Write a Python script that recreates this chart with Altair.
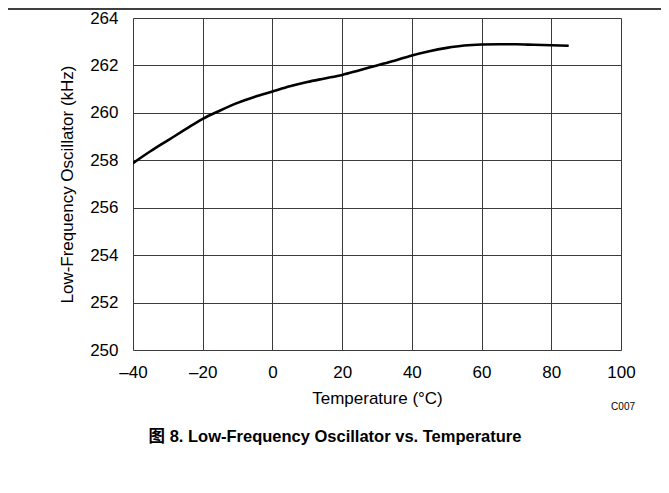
import altair as alt
import pandas as pd

# Data
temps = [-40, -35, -30, -25, -20, -15, -10, -5, 0, 5, 10, 15, 20, 25, 30,
         35, 40, 45, 50, 55, 60, 65, 70, 75, 80, 85]
freq_khz = [257.88, 258.38, 258.84, 259.30, 259.75, 260.10, 260.42, 260.68,
            260.90, 261.12, 261.30, 261.45, 261.60, 261.80, 262.00, 262.20,
            262.42, 262.60, 262.74, 262.84, 262.88, 262.89, 262.89, 262.87,
            262.85, 262.83]
x_ticks = [-40, -20, 0, 20, 40, 60, 80, 100]
y_ticks = [250, 252, 254, 256, 258, 260, 262, 264]

x_title = "Temperature (°C)"
y_title = "Low-Frequency Oscillator (kHz)"
code_label = "C007"
caption = "图 8. Low-Frequency Oscillator vs. Temperature"

FONT = "Liberation Sans, Arial, Noto Sans CJK SC, sans-serif"
W, H = 488, 332

df = pd.DataFrame({"t": temps, "f": freq_khz})

x_enc = alt.X(
    "t:Q",
    scale=alt.Scale(domain=[-40, 100], nice=False, zero=False),
    axis=alt.Axis(
        values=x_ticks, title=x_title, grid=True, ticks=False, domain=False,
        labelExpr="(datum.value < 0 ? '–' : '') + abs(datum.value)",
        labelFlush=False, labelOverlap=False,
        labelFontSize=17, labelPadding=14, titleFontSize=17, titlePadding=10,
        labelColor="black", titleColor="black", titleFontWeight="normal",
        labelFont=FONT, titleFont=FONT, gridColor="#3a3a3a", gridWidth=1,
    ),
)
y_enc = alt.Y(
    "f:Q",
    scale=alt.Scale(domain=[250, 264], nice=False, zero=False),
    axis=alt.Axis(
        values=y_ticks, title=y_title, grid=True, ticks=False, domain=False,
        labelFlush=False, labelOverlap=False,
        labelFontSize=17, labelPadding=15, titleFontSize=17, titlePadding=13,
        labelColor="black", titleColor="black", titleFontWeight="normal",
        labelFont=FONT, titleFont=FONT, gridColor="#3a3a3a", gridWidth=1,
    ),
)

line = alt.Chart(df).mark_line(
    color="black", strokeWidth=2.6, interpolate="monotone", clip=True
).encode(x=x_enc, y=y_enc)

one = alt.Data(values=[{}])

top_rule = alt.Chart(one).mark_rule(color="black", strokeWidth=1.5).encode(
    x=alt.value(-125), x2=alt.value(W + 40), y=alt.value(-9)
)

code_text = alt.Chart(one).mark_text(
    align="right", baseline="middle", fontSize=10, font=FONT, color="black"
).encode(x=alt.value(502), y=alt.value(389), text=alt.value(code_label))

caption_text = alt.Chart(one).mark_text(
    align="center", baseline="middle", fontSize=16.5, font=FONT,
    fontWeight="bold", color="black"
).encode(x=alt.value(202), y=alt.value(419), text=alt.value(caption))

chart = alt.layer(line, top_rule, code_text, caption_text).properties(
    width=W, height=H,
    autosize=alt.AutoSizeParams(type="none"),
    padding={"left": 125, "top": 10, "right": 40, "bottom": 135},
).configure_view(
    stroke="black", strokeWidth=2.5
).configure(background="white")

chart.save("out.html", embed_options={"renderer": "svg", "actions": False})
